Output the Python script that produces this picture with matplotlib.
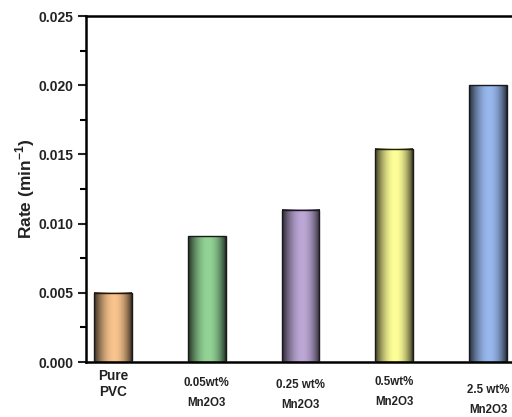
import numpy as np
import matplotlib.pyplot as plt
from matplotlib.colors import to_rgb
from matplotlib.ticker import MultipleLocator

plt.rcParams['font.family'] = ['Liberation Sans', 'DejaVu Sans']
plt.rcParams['mathtext.fontset'] = 'custom'
plt.rcParams['mathtext.rm'] = 'Liberation Sans'
plt.rcParams['mathtext.bf'] = 'Liberation Sans:bold'

samples = ['Pure\nPVC', '0.05wt%\nMn2O3', '0.25 wt%\nMn2O3', '0.5wt%\nMn2O3', '2.5 wt%\nMn2O3']
rates = [0.0050, 0.0091, 0.0110, 0.0154, 0.0200]
colors = ['#F9C48E', '#93D496', '#BCA7D6', '#FFFF99', '#98B8EE']
# extra downward shift of each category label (points)
label_drop = [0, 6, 7, 5, 11]

fig = plt.figure(figsize=(5.12, 4.17), dpi=100)
ax = fig.add_axes([86 / 512, 55 / 417, 429 / 512, 346 / 417])

width = 0.4
x = np.arange(len(rates))
t = np.linspace(0, 1, 64)
# cylinder-like shading: dark at both edges, bright slightly left of centre
shade = 0.22 + 0.78 * np.sin(np.pi * t ** 1.1) ** 0.8

for xi, h, c in zip(x, rates, colors):
    base = np.array(to_rgb(c))
    img = (shade[:, None] * base[None, :])[None, :, :]
    ax.imshow(img, extent=(xi - width / 2, xi + width / 2, 0, h),
              aspect='auto', interpolation='bilinear', zorder=2)
    ax.bar(xi, h, width=width, facecolor='none', edgecolor='#1a1a1a',
           linewidth=1.0, zorder=3)

ax.set_xlim(-0.288, 4.288)
ax.set_ylim(0, 0.025)
ax.set_aspect('auto')

ax.yaxis.set_major_locator(MultipleLocator(0.005))
ax.yaxis.set_minor_locator(MultipleLocator(0.0025))
ax.set_yticklabels([f'{v:.3f}' for v in ax.get_yticks()])
ax.tick_params(axis='y', which='major', direction='out', length=6, width=1.5,
               labelsize=10, colors='#222222', pad=3)
ax.tick_params(axis='y', which='minor', direction='out', length=4, width=1.5)
for lab in ax.get_yticklabels():
    lab.set_fontweight('bold')

ax.set_xticks([])
for xi, name, drop in zip(x, samples, label_drop):
    small = name != 'Pure\nPVC'
    ax.annotate(name, xy=(xi, 0), xycoords=('data', 'axes fraction'),
                xytext=(0, -5 - drop), textcoords='offset points',
                ha='center', va='top', fontweight='bold' if small else 'semibold',
                fontsize=8.3 if small else 9.8, color='#222222',
                linespacing=1.9 if small else 1.2)

ax.set_ylabel('Rate (min$^{\\mathbf{-1}}$)', fontsize=12.5, fontweight='bold',
              color='#222222', labelpad=1)

for side in ['left', 'bottom', 'top', 'right']:
    ax.spines[side].set_linewidth(1.8)

fig.savefig('out.png', dpi=100)
